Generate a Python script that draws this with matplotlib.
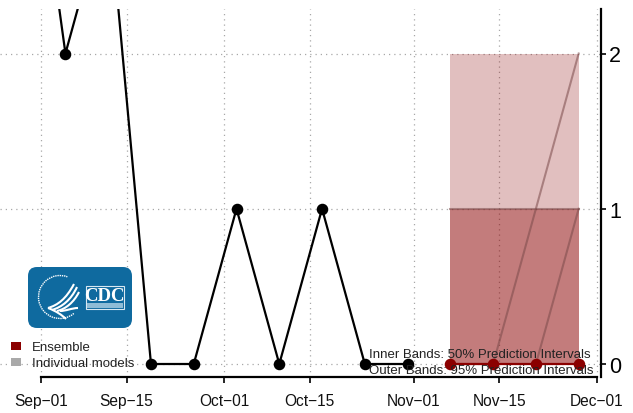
import datetime as dt
import matplotlib
matplotlib.use('Agg')
import matplotlib.pyplot as plt
import matplotlib.dates as mdates
from matplotlib.patches import FancyBboxPatch, Rectangle, Arc, PathPatch
from matplotlib.path import Path

W, H = 633, 414
plt.rcParams['font.family'] = ['Liberation Sans', 'DejaVu Sans']


def d(s):
    return dt.datetime.strptime(s, '%Y-%m-%d')


obs_dates = [d(s) for s in ['2021-08-29', '2021-09-05', '2021-09-12', '2021-09-19', '2021-09-26',
                            '2021-10-03', '2021-10-10', '2021-10-17', '2021-10-24', '2021-10-31']]
obs_values = [4, 2, 3, 0, 0, 1, 0, 1, 0, 0]

fc_dates = [d(s) for s in ['2021-11-07', '2021-11-14', '2021-11-21', '2021-11-28']]
ensemble = [0, 0, 0, 0]
outer_low = [0, 0, 0, 0]
outer_high = [2, 2, 2, 2]
inner_low = [0, 0, 0, 0]
inner_high = [1, 1, 1, 1]
models = [[1, 1, 1, 1],
          [0, 0, 1, 2],
          [0, 0, 0, 1]]

tick_dates = [d(s) for s in ['2021-09-01', '2021-09-15', '2021-10-01', '2021-10-15',
                             '2021-11-01', '2021-11-15', '2021-12-01']]
tick_labels = ['Sep\u221201', 'Sep\u221215', 'Oct\u221201', 'Oct\u221215',
               'Nov\u221201', 'Nov\u221215', 'Dec\u221201']
y_ticks = [0, 1, 2]

RED = '#8b0000'
GRID = '#a8a8a8'

fig = plt.figure(figsize=(W / 100, H / 100), dpi=100)

# axes run from the left edge to the right spine
left, right, top, bottom = 0, 601, 10, 378
ax = fig.add_axes([left / W, 1 - bottom / H, (right - left) / W, (bottom - top) / H])
ax.patch.set_alpha(0)

px_day = (597 - 41) / 91
x0 = mdates.date2num(tick_dates[0])
ax.set_xlim(x0 - 41 / px_day, x0 + (601 - 41) / px_day)
px_unit = (365 - 54.5) / 2
ax.set_ylim(-(378 - 365) / px_unit, (365 - 10) / px_unit)

ax.grid(True, color=GRID, linestyle=(0, (1, 3.2)), linewidth=0.9)
ax.set_axisbelow(True)

ax.fill_between(fc_dates, outer_low, outer_high, color=RED, alpha=0.25, linewidth=0, zorder=2)
ax.fill_between(fc_dates, inner_low, inner_high, color=RED, alpha=0.35, linewidth=0, zorder=2.1)
for m in models:
    ax.plot(fc_dates, m, color='#7a4a4a', alpha=0.55, linewidth=1.5, zorder=2.5)

ax.plot(obs_dates, obs_values, color='black', linewidth=1.6, marker='o', markersize=7.3, zorder=3)
ax.plot(fc_dates, ensemble, color=RED, linewidth=1.6, marker='o', markersize=7.3, zorder=4)

ax.set_xticks(tick_dates)
ax.set_xticklabels(tick_labels, fontsize=11.2, color='#111111')
ax.set_yticks(y_ticks)
ax.yaxis.tick_right()
ax.set_yticklabels([str(v) for v in y_ticks], fontsize=15.5)
ax.tick_params(axis='x', length=4.5, width=1.2, pad=7)
ax.tick_params(axis='y', length=3.5, width=1.2, pad=2.5)

for s in ['top', 'left']:
    ax.spines[s].set_visible(False)
ax.spines['right'].set_linewidth(1.6)
ax.spines['bottom'].set_linewidth(1.6)
ax.spines['bottom'].set_bounds(x0, mdates.date2num(tick_dates[-1]))


# pixel overlay for legend, notes and logo
ov = fig.add_axes([0, 0, 1, 1])
ov.set_xlim(0, W)
ov.set_ylim(H, 0)
ov.axis('off')
ov.patch.set_alpha(0)

ov.add_patch(Rectangle((11, 343), 10, 8, color=RED, linewidth=0))
ov.add_patch(Rectangle((11, 359), 10, 8, color='#a9a9a9', linewidth=0))
ov.text(32, 348, 'Ensemble', fontsize=9.5, va='center', color='#222222')
ov.text(32, 364, 'Individual models', fontsize=9.5, va='center', color='#222222')

ov.text(369, 355.5, 'Inner Bands: 50% Prediction Intervals', fontsize=9.5, va='center', color='#222222', zorder=6)
ov.text(369, 371.5, 'Outer Bands: 95% Prediction Intervals', fontsize=9.5, va='center', color='#222222', zorder=6)

# logo
BLUE = '#0f6a9f'
ov.add_patch(FancyBboxPatch((28, 268), 104, 61, boxstyle='round,pad=0,rounding_size=9', linewidth=0, color=BLUE))
ov.add_patch(Arc((60, 298), 43, 43, theta1=50, theta2=290, color='white', linewidth=1.0, linestyle=(0, (1, 0.6))))
eagle = [
    [(48, 309), (58, 306), (66, 300), (74, 285)],
    [(52, 311), (62, 308), (71, 301), (77, 288)],
    [(57, 312), (66, 310), (74, 303), (79, 293)],
    [(48, 309), (56, 312), (62, 316), (66, 320)],
    [(60, 312), (66, 312), (72, 309), (78, 309)],
]
for pts in eagle:
    ov.add_patch(PathPatch(Path(pts, [Path.MOVETO, Path.CURVE4, Path.CURVE4, Path.CURVE4]),
                           fill=False, edgecolor='white', linewidth=1.5))
ov.add_patch(Rectangle((85.5, 287), 38, 23, fill=False, edgecolor='#d8e8f2', linewidth=0.8))
ov.add_patch(Rectangle((86.5, 304), 36, 5, fill=True, facecolor='#8fbcd6', linewidth=0))
ov.text(104.5, 296.5, 'CDC', family='Liberation Serif', fontweight='bold', fontsize=13.5,
        color='white', ha='center', va='center')

fig.savefig('out.png', dpi=100)
